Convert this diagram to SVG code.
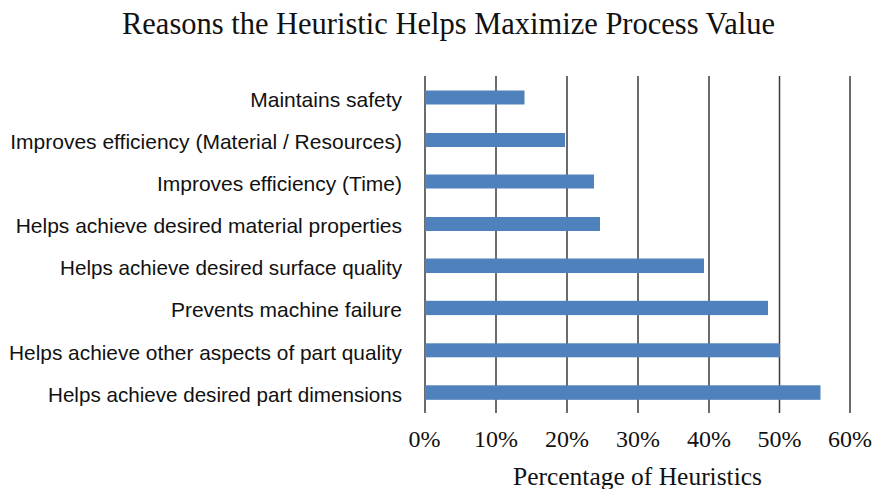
<svg xmlns="http://www.w3.org/2000/svg" width="873" height="489" viewBox="0 0 873 489">
<style>
.grid{stroke:#3a3a3a;stroke-width:1.5}
.bar{fill:#4f81bd}
.lbl{font-family:"Liberation Sans",Arial,sans-serif;font-size:21px;fill:#111;text-anchor:end}
.tick{font-family:"Liberation Serif","Times New Roman",serif;font-size:24px;fill:#111;text-anchor:middle}
.title{font-family:"Liberation Serif","Times New Roman",serif;font-size:31px;fill:#111;text-anchor:middle}
.axt{font-family:"Liberation Serif","Times New Roman",serif;font-size:25px;fill:#111;text-anchor:middle}
</style>
<rect width="873" height="489" fill="#fff"/>
<text id="title" class="title" x="448.5" y="33.5" textLength="653" lengthAdjust="spacingAndGlyphs">Reasons the Heuristic Helps Maximize Process Value</text>
<g id="grid">
<line class="grid" x1="425" y1="76" x2="425" y2="413"/>
<line class="grid" x1="496" y1="76" x2="496" y2="413"/>
<line class="grid" x1="567" y1="76" x2="567" y2="413"/>
<line class="grid" x1="638" y1="76" x2="638" y2="413"/>
<line class="grid" x1="709" y1="76" x2="709" y2="413"/>
<line class="grid" x1="779.5" y1="76" x2="779.5" y2="413"/>
<line class="grid" x1="850" y1="76" x2="850" y2="413"/>
</g>
<g id="bars">
<g id="bar1"><rect class="bar" x="425" y="90.5" width="99.5" height="14"/><text class="lbl" x="402" y="106.5">Maintains safety</text></g>
<g id="bar2"><rect class="bar" x="425" y="133" width="140" height="14"/><text class="lbl" x="402" y="149">Improves efficiency (Material / Resources)</text></g>
<g id="bar3"><rect class="bar" x="425" y="174.5" width="169" height="14"/><text class="lbl" x="402" y="190.5">Improves efficiency (Time)</text></g>
<g id="bar4"><rect class="bar" x="425" y="217" width="175" height="14"/><text class="lbl" x="402" y="233">Helps achieve desired material properties</text></g>
<g id="bar5"><rect class="bar" x="425" y="258.5" width="279" height="14.5"/><text class="lbl" x="402" y="275" textLength="342" lengthAdjust="spacingAndGlyphs">Helps achieve desired surface quality</text></g>
<g id="bar6"><rect class="bar" x="425" y="300.8" width="343" height="14.3"/><text class="lbl" x="402" y="317">Prevents machine failure</text></g>
<g id="bar7"><rect class="bar" x="425" y="343.3" width="355" height="14"/><text class="lbl" x="402" y="359.5" textLength="393" lengthAdjust="spacingAndGlyphs">Helps achieve other aspects of part quality</text></g>
<g id="bar8"><rect class="bar" x="425" y="385.3" width="395.5" height="14.5"/><text class="lbl" x="402" y="401.5" textLength="354" lengthAdjust="spacingAndGlyphs">Helps achieve desired part dimensions</text></g>
</g>
<g id="axis">
<text class="tick" x="424.5" y="447">0%</text>
<text class="tick" x="496" y="447">10%</text>
<text class="tick" x="567" y="447">20%</text>
<text class="tick" x="638" y="447">30%</text>
<text class="tick" x="709" y="447">40%</text>
<text class="tick" x="779.5" y="447">50%</text>
<text class="tick" x="850" y="447">60%</text>
<text id="xtitle" class="axt" x="637.5" y="485" textLength="249" lengthAdjust="spacingAndGlyphs">Percentage of Heuristics</text>
</g>
</svg>
